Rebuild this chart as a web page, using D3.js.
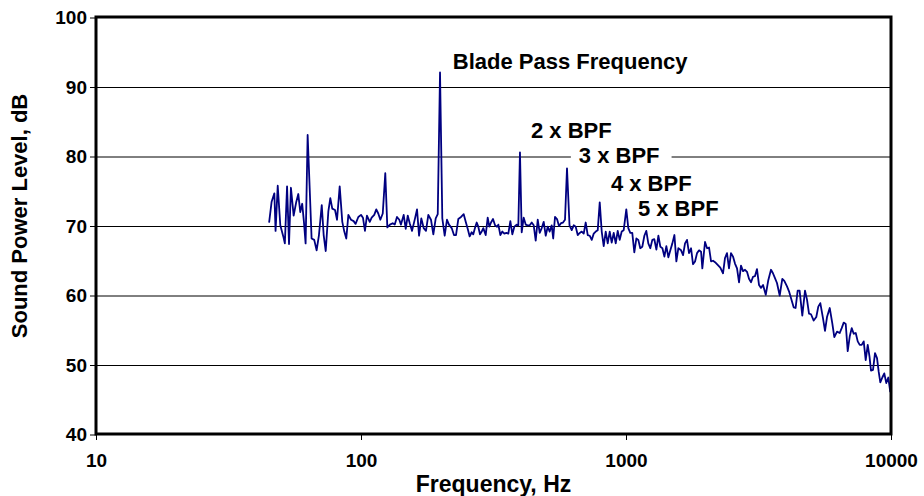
<!DOCTYPE html>
<html>
<head>
<meta charset="utf-8">
<script src="https://cdn.jsdelivr.net/npm/d3@7"></script>
<style>
  html, body { margin: 0; padding: 0; background: #fff; }
  svg { display: block; }
  text { font-family: "Liberation Sans", Arial, Helvetica, sans-serif; font-weight: bold; fill: #000; }
</style>
</head>
<body>
<svg id="chart" width="924" height="496"></svg>
<script>
// ---------------- data ----------------
const freqHz = [
  45.0, 46.0, 47.1, 47.6, 48.5, 49.6, 50.9, 51.6, 52.6, 53.5,
  54.4, 55.7, 57.0, 58.0, 59.0, 60.0, 60.9, 61.8, 62.9, 65.1,
  66.6, 68.0, 69.4, 71.1, 72.3, 73.6, 75.3, 76.6, 77.9, 79.8,
  81.2, 83.1, 85.0, 86.5, 88.0, 89.6, 91.7, 93.8, 95.4, 97.7,
  100, 101.7, 103.5, 105.3, 107.9, 109.7, 112.2, 114.2, 116.2, 118.3,
  120.8, 123.5, 125.7, 128.6, 131.7, 134.1, 136.7, 139.5, 141.5, 144.9,
  147.5, 150.1, 152.7, 155.8, 159.9, 162.7, 165.6, 168.9, 172.4, 175.9,
  179.5, 183.7, 187.5, 191.4, 194.8, 198.7, 202.7, 206.9, 211.1, 214.8,
  219.9, 224.3, 228.3, 232.9, 238.5, 244.1, 248.4, 252.7, 257.1, 261.6,
  265.3, 269.2, 273.3, 277.1, 281.2, 285.4, 289.4, 295.5, 300.7, 305.0,
  309.5, 314.9, 320.5, 326.1, 329.8, 335.6, 341.5, 347.5, 353.6, 359.7,
  366.1, 372.5, 379.0, 386.9, 392.4, 398.0, 404.0, 411.1, 418.3, 425.7,
  433.2, 440.8, 448.5, 456.3, 464.4, 472.5, 480.8, 489.2, 497.7, 506.5,
  515.3, 524.3, 531.3, 539.6, 549.1, 558.7, 568.5, 578.5, 588.6, 598.9,
  612.1, 624.0, 634.9, 646.0, 657.4, 669.0, 680.7, 692.6, 704.7, 717.1,
  729.5, 742.4, 755.4, 768.7, 782.2, 795.9, 809.8, 823.9, 838.4, 853.1,
  868.1, 883.1, 898.7, 914.5, 930.6, 946.7, 963.4, 980.2, 1002.6, 1020.2,
  1038, 1056, 1075, 1094, 1113, 1132, 1152, 1173, 1193, 1214,
  1235, 1257, 1279, 1302, 1325, 1348, 1372, 1396, 1420, 1445,
  1470, 1496, 1523, 1549, 1576, 1614, 1642, 1670, 1699, 1729,
  1760, 1790, 1822, 1854, 1887, 1920, 1941, 1987, 2023, 2058,
  2094, 2131, 2168, 2218, 2269, 2323, 2364, 2405, 2447, 2490,
  2534, 2578, 2624, 2670, 2716, 2764, 2813, 2862, 2912, 2964,
  3015, 3068, 3121, 3177, 3232, 3290, 3368, 3443, 3525, 3586,
  3649, 3713, 3802, 3889, 3957, 4051, 4122, 4292, 4365, 4444,
  4519, 4627, 4737, 4820, 4905, 4990, 5108, 5225, 5317, 5411,
  5539, 5636, 5735, 5872, 6005, 6111, 6256, 6404, 6516, 6630,
  6748, 6865, 6986, 7108, 7233, 7361, 7489, 7621, 7753, 7889,
  8027, 8169, 8297, 8405, 8553, 8703, 8856, 8988, 9113, 9273,
  9434, 9600, 9768, 9940
];
const levelDb = [
  70.5, 73.5, 74.7, 69.3, 75.8, 70.1, 68.5, 67.5, 75.7, 67.4,
  75.5, 71.5, 73.5, 74.6, 72.0, 73.2, 70.6, 67.5, 83.1, 68.2,
  68.0, 66.5, 68.7, 73.0, 68.7, 66.4, 72.1, 74.0, 72.5, 72.3,
  70.9, 75.7, 70.6, 69.2, 68.2, 71.6, 70.9, 70.7, 70.3, 71.3,
  71.6, 71.2, 69.3, 71.5, 70.6, 71.2, 71.6, 72.4, 71.8, 70.9,
  71.8, 77.6, 69.8, 70.2, 70.4, 70.2, 71.3, 70.9, 70.2, 71.6,
  69.6, 71.5, 70.4, 69.3, 71.1, 72.4, 68.6, 71.1, 69.7, 69.3,
  71.6, 70.9, 68.8, 71.1, 71.7, 92.1, 71.1, 68.6, 70.9, 70.2,
  69.7, 68.7, 68.7, 71.0, 71.3, 71.7, 70.6, 69.6, 68.5, 69.1,
  68.8, 69.7, 70.5, 69.9, 68.8, 69.2, 69.7, 68.7, 71.2, 69.9,
  70.5, 71.0, 70.1, 69.9, 70.2, 68.7, 69.2, 68.9, 69.0, 68.9,
  70.7, 68.8, 69.9, 70.2, 70.1, 80.6, 69.1, 71.2, 70.2, 70.1,
  70.1, 70.5, 70.1, 67.9, 70.9, 69.0, 69.7, 70.6, 68.6, 69.9,
  69.2, 70.1, 68.2, 71.3, 71.0, 70.0, 70.4, 70.5, 70.9, 78.3,
  70.1, 69.4, 70.1, 69.9, 68.7, 69.0, 69.2, 68.9, 70.5, 68.7,
  68.6, 68.0, 68.9, 69.2, 69.4, 73.4, 69.2, 67.1, 69.2, 67.5,
  69.2, 67.6, 69.0, 67.5, 69.3, 68.0, 69.2, 69.4, 72.4, 69.7,
  69.0, 69.0, 66.2, 68.2, 68.0, 66.8, 67.0, 68.6, 69.3, 67.5,
  66.8, 68.0, 68.1, 66.6, 68.6, 67.0, 66.8, 65.6, 67.1, 65.5,
  66.5, 67.5, 68.7, 64.9, 66.8, 66.5, 65.8, 67.5, 68.0, 66.1,
  66.8, 64.5, 64.9, 66.1, 66.5, 66.3, 63.9, 67.7, 66.8, 66.9,
  64.9, 65.0, 64.8, 64.4, 64.0, 63.2, 65.4, 66.1, 63.9, 66.1,
  65.6, 64.6, 63.9, 61.9, 64.3, 63.5, 63.7, 63.4, 62.4, 61.9,
  62.7, 62.8, 63.8, 61.5, 61.1, 61.5, 60.1, 62.2, 63.7, 63.2,
  62.5, 61.8, 60.0, 62.4, 62.1, 61.3, 60.6, 58.3, 58.2, 60.7,
  60.7, 57.1, 60.7, 59.4, 57.4, 57.3, 56.4, 56.9, 58.4, 58.9,
  56.7, 54.9, 56.9, 58.2, 56.0, 54.0, 54.8, 54.6, 55.3, 56.1,
  55.9, 52.0, 54.1, 55.3, 54.5, 54.6, 53.4, 52.9, 52.9, 53.4,
  50.7, 52.9, 51.2, 49.2, 49.3, 51.7, 51.0, 49.0, 47.5, 48.2,
  48.8, 47.4, 48.2, 46.1
];
const xTickValues = [10, 100, 1000, 10000];
const yTickValues = [40, 50, 60, 70, 80, 90, 100];
const xTitle = "Frequency, Hz";
const yTitle = "Sound Power Level, dB";
const labelTexts = ["Blade Pass Frequency", "2 x BPF", "3 x BPF", "4 x BPF", "5 x BPF"];
const labelFreqHz = [222, 438, 664, 877, 1109];
const labelDb = [92.6, 82.6, 79.0, 75.1, 71.5];
const labelBoxed = [false, false, true, false, false];

// ---------------- layout ----------------
const svg = d3.select("#chart");
const plot = { left: 96, right: 891, top: 17, bottom: 434 };

const x = d3.scaleLog().domain([10, 10000]).range([plot.left, plot.right]);
const y = d3.scaleLinear().domain([40, 100]).range([plot.bottom + 0.5, plot.top + 0.5]);

// gridlines
const grid = svg.append("g").attr("class", "grid")
  .attr("transform", `translate(${plot.left},0)`)
  .call(d3.axisLeft(y).tickValues(yTickValues.filter(v => v > 40 && v < 100))
    .tickSize(-(plot.right - plot.left)).tickFormat(""));
grid.select(".domain").remove();
grid.selectAll(".tick line").attr("stroke", "#000").attr("stroke-width", 1);

// y axis
const yAxis = svg.append("g")
  .attr("transform", `translate(${plot.left},0)`)
  .call(d3.axisLeft(y).tickValues(yTickValues).tickSize(6).tickPadding(3).tickFormat(d3.format("d")));
yAxis.select(".domain").remove();
yAxis.selectAll(".tick line").attr("stroke", "#000").attr("stroke-width", 1);
yAxis.selectAll(".tick text")
  .style("font-family", '"Liberation Sans", Arial, sans-serif')
  .style("font-weight", "bold").style("font-size", "19px").attr("fill", "#000");

// x axis
const xAxis = svg.append("g")
  .attr("transform", `translate(0,${plot.bottom})`)
  .call(d3.axisBottom(x).tickValues(xTickValues).tickSize(6).tickPadding(14).tickFormat(d3.format("d")));
xAxis.select(".domain").remove();
xAxis.selectAll(".tick line").attr("stroke", "#000").attr("stroke-width", 1);
xAxis.selectAll(".tick text")
  .style("font-family", '"Liberation Sans", Arial, sans-serif')
  .style("font-weight", "bold").style("font-size", "19px").attr("fill", "#000");

// data line
const line = d3.line().x((d, i) => x(freqHz[i])).y(d => y(d));
svg.append("path")
  .datum(levelDb)
  .attr("fill", "none")
  .attr("stroke", "#000080")
  .attr("stroke-width", 1.8)
  .attr("stroke-linejoin", "round")
  .attr("d", line);

// plot border
svg.append("rect")
  .attr("x", plot.left).attr("y", plot.top)
  .attr("width", plot.right - plot.left).attr("height", plot.bottom - plot.top)
  .attr("fill", "none").attr("stroke", "#000").attr("stroke-width", 3);

// annotations
labelTexts.forEach((t, i) => {
  const g = svg.append("g");
  const txt = g.append("text")
    .attr("x", x(labelFreqHz[i]))
    .attr("y", y(labelDb[i]))
    .style("font-size", "22px")
    .text(t);
  if (labelBoxed[i]) {
    const bb = txt.node().getBBox();
    g.insert("rect", "text")
      .attr("x", bb.x - 8).attr("y", bb.y)
      .attr("width", bb.width + 20).attr("height", bb.height)
      .attr("fill", "#fff");
  }
});

// axis titles
svg.append("text")
  .attr("x", (plot.left + plot.right) / 2)
  .attr("y", 492)
  .attr("text-anchor", "middle")
  .style("font-size", "23px")
  .text(xTitle);

svg.append("text")
  .attr("transform", `translate(27,216) rotate(-90)`)
  .attr("text-anchor", "middle")
  .style("font-size", "22px")
  .text(yTitle);
</script>
</body>
</html>
